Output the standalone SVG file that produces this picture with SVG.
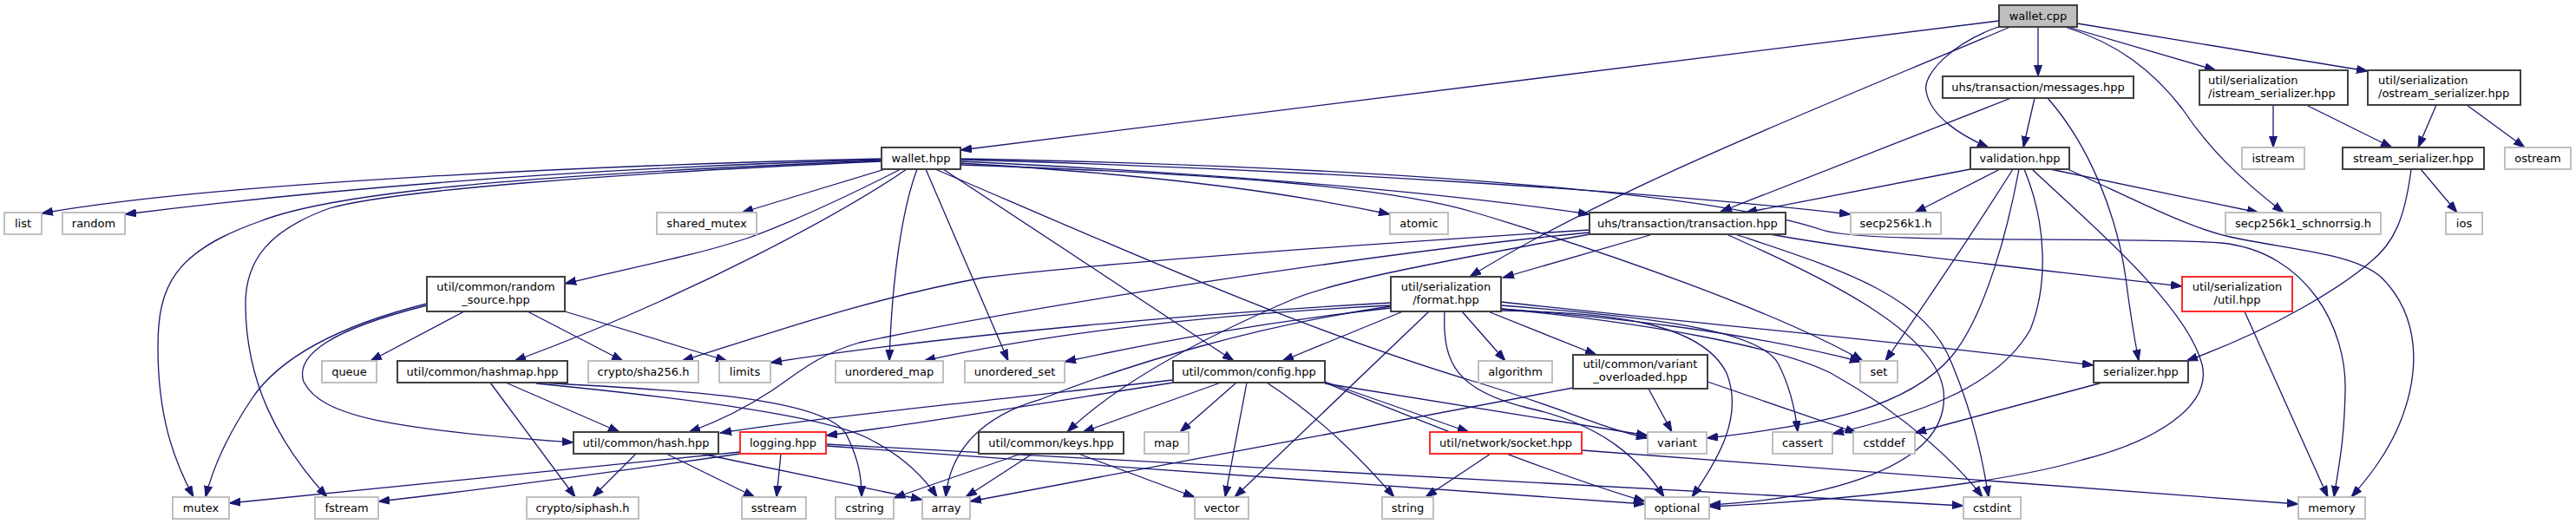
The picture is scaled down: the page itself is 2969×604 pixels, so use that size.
<svg xmlns="http://www.w3.org/2000/svg" width="2969" height="604" viewBox="0 0 2969 604">
<style>
.e{fill:none;stroke:#191970;stroke-width:1.3;marker-end:url(#a)}
.node rect{fill:#fff;stroke:#404040;stroke-width:2}
.node.ext rect{stroke:#bfbfbf}
.node.red rect{stroke:#ff2a2a}
.node.root rect{fill:#bfbfbf}
text{font-family:"DejaVu Sans",sans-serif;font-size:13px;fill:#000;text-anchor:middle}
text.l{text-anchor:start}
</style>
<defs>
<marker id="a" markerWidth="14" markerHeight="10" refX="13" refY="5" orient="auto" markerUnits="userSpaceOnUse"><path d="M0,0.5 L13,5 L0,9.5 z" fill="#191970" stroke="#191970" stroke-width="1"/></marker>
</defs>
<rect width="2969" height="604" fill="#fff"/>
<g id="edges">
<path class="e" d="M2304,24 L1107,173"/>
<path class="e" d="M2349,31 L2349,88"/>
<path class="e" d="M2303,31 C2250,50 2216,85 2220,105 C2225,135 2262,157 2292,170"/>
<path class="e" d="M2317,31 C2120,115 1860,215 1694,319"/>
<path class="e" d="M2383,31 L2554,81"/>
<path class="e" d="M2394,27 L2729,82"/>
<path class="e" d="M2380,31 C2440,50 2480,80 2515,125 C2545,170 2580,205 2632,245"/>
<path class="e" d="M2345,113 L2332,170"/>
<path class="e" d="M2318,113 L1983,244"/>
<path class="e" d="M2360,113 C2410,170 2440,250 2450,320 C2455,360 2460,390 2465,416"/>
<path class="e" d="M2620,121 L2620,170"/>
<path class="e" d="M2658,121 L2757,170"/>
<path class="e" d="M2808,121 L2787,170"/>
<path class="e" d="M2843,121 L2910,170"/>
<path class="e" d="M2790,195 L2832,245"/>
<path class="e" d="M2779,195 C2772,250 2760,280 2732,302 C2700,330 2620,380 2520,416"/>
<path class="e" d="M2271,195 L2012,245"/>
<path class="e" d="M2305,195 L2207,245"/>
<path class="e" d="M2363,195 L2603,245"/>
<path class="e" d="M2383,195 C2450,225 2520,262 2570,273 C2640,288 2715,292 2745,320 C2790,365 2790,430 2765,490 C2750,525 2730,550 2710,573"/>
<path class="e" d="M2320,195 Q2260,290 2173,416"/>
<path class="e" d="M2327,195 C2315,260 2290,360 2250,410 C2200,470 2100,490 1967,505"/>
<path class="e" d="M2333,195 C2360,260 2360,330 2340,380 C2300,450 2200,480 2112,500"/>
<path class="e" d="M2342,195 C2400,250 2520,350 2538,420 C2550,470 2480,510 2400,530 C2300,560 2100,578 1970,584"/>
<path class="e" d="M1905,270 L1732,320"/>
<path class="e" d="M2040,270 C2150,290 2300,305 2515,330"/>
<path class="e" d="M1832,265 C1600,280 1300,300 1133,320 C1000,345 900,380 786,416"/>
<path class="e" d="M1832,268 C1600,290 1200,350 990,395 C940,410 920,430 890,450 C860,470 830,485 794,498"/>
<path class="e" d="M1832,270 C1700,295 1550,320 1490,345 C1420,375 1300,430 1230,498"/>
<path class="e" d="M1990,270 C2100,320 2230,380 2240,450 C2250,540 2100,575 1970,582"/>
<path class="e" d="M2000,270 C2120,310 2220,340 2250,420 C2275,480 2285,530 2292,573"/>
<path class="e" d="M1016,183 C700,190 250,210 48,246"/>
<path class="e" d="M1016,184 C700,193 400,215 144,247"/>
<path class="e" d="M1016,185 C700,198 400,215 300,255 C200,290 182,330 182,400 C182,480 200,530 223,573"/>
<path class="e" d="M1016,186 C700,200 450,220 380,240 C310,265 283,300 283,350 C283,440 320,510 377,573"/>
<path class="e" d="M1020,195 L855,245"/>
<path class="e" d="M1038,195 C960,235 890,265 860,275 C800,295 720,310 651,327"/>
<path class="e" d="M1045,195 C980,240 800,340 593,416"/>
<path class="e" d="M1057,195 C1040,240 1028,320 1025,416"/>
<path class="e" d="M1067,195 L1162,416"/>
<path class="e" d="M1087,195 L1422,416"/>
<path class="e" d="M1078,195 C1300,290 1500,380 1700,440 C1800,470 1850,495 1899,505"/>
<path class="e" d="M1107,188 C1300,200 1450,215 1602,247"/>
<path class="e" d="M1107,186 C1400,200 1650,220 1832,247"/>
<path class="e" d="M1107,184 C1500,195 1900,220 2133,247"/>
<path class="e" d="M1107,183 C1500,190 1950,215 2100,265 C2150,282 2450,272 2560,280 C2660,290 2705,380 2703,450 C2702,510 2695,540 2690,573"/>
<path class="e" d="M1107,190 C1400,200 1600,215 1700,245 C1850,290 2050,360 2147,416"/>
<path class="e" d="M535,359 L427,416"/>
<path class="e" d="M492,350 C420,368 330,400 290,460 C260,505 245,540 237,573"/>
<path class="e" d="M492,352 C380,380 340,410 350,440 C370,480 450,495 661,510"/>
<path class="e" d="M608,359 L718,416"/>
<path class="e" d="M651,359 L838,416"/>
<path class="e" d="M583,441 L714,498"/>
<path class="e" d="M565,441 L663,573"/>
<path class="e" d="M618,441 C800,450 950,460 975,500 C990,530 993,550 993,573"/>
<path class="e" d="M618,442 C800,460 950,480 1000,505 C1040,525 1065,550 1080,573"/>
<path class="e" d="M733,523 L683,573"/>
<path class="e" d="M768,523 L870,573"/>
<path class="e" d="M808,523 L1063,576"/>
<path class="e" d="M853,521 L264,580"/>
<path class="e" d="M853,523 C700,545 550,565 436,578"/>
<path class="e" d="M900,523 L895,573"/>
<path class="e" d="M952,514 C1300,540 1600,560 1896,581"/>
<path class="e" d="M952,512 C1500,540 2000,565 2263,583"/>
<path class="e" d="M1407,441 L1248,498"/>
<path class="e" d="M1425,441 L1360,498"/>
<path class="e" d="M1437,441 L1412,573"/>
<path class="e" d="M1352,438 C1200,455 950,480 830,499"/>
<path class="e" d="M1352,441 C1200,465 1050,490 952,502"/>
<path class="e" d="M1527,440 L1693,498"/>
<path class="e" d="M1460,441 C1520,480 1570,530 1607,573"/>
<path class="e" d="M1527,442 L1899,502"/>
<path class="e" d="M1527,441 C1650,490 1800,550 1896,578"/>
<path class="e" d="M1603,349 C1400,360 1100,385 888,418"/>
<path class="e" d="M1603,352 C1400,362 1200,385 1065,416"/>
<path class="e" d="M1603,355 C1450,372 1330,395 1227,417"/>
<path class="e" d="M1617,359 L1478,416"/>
<path class="e" d="M1603,353 C1450,375 1300,420 1200,460 C1130,480 1095,520 1090,573"/>
<path class="e" d="M1647,359 L1423,573"/>
<path class="e" d="M1685,359 L1735,416"/>
<path class="e" d="M1715,359 L1840,409"/>
<path class="e" d="M1665,359 C1662,420 1680,450 1760,470 C1850,490 1890,530 1918,573"/>
<path class="e" d="M1730,356 C1850,365 2000,380 2145,417"/>
<path class="e" d="M1730,348 C1950,372 2200,395 2413,421"/>
<path class="e" d="M1730,352 C1900,365 2030,380 2050,420 C2065,450 2070,480 2072,498"/>
<path class="e" d="M1730,356 C1900,372 2050,400 2110,430 C2200,480 2260,540 2285,573"/>
<path class="e" d="M1730,358 C1850,360 1960,370 1990,430 C2010,480 1980,530 1950,573"/>
<path class="e" d="M1968,440 L2140,499"/>
<path class="e" d="M1813,447 L1118,578"/>
<path class="e" d="M1718,523 L1643,573"/>
<path class="e" d="M1823,519 L2649,581"/>
<path class="e" d="M1177,523 L1030,574"/>
<path class="e" d="M1190,523 L1113,573"/>
<path class="e" d="M1243,523 L1377,573"/>
<path class="e" d="M1900,448 L1927,498"/>
<path class="e" d="M2423,441 L2207,499"/>
<path class="e" d="M2587,359 L2683,573"/>
</g>
<g id="n_wallet_cpp" class="node root"><rect x="2304" y="6" width="90" height="25"/><text x="2349" y="23">wallet.cpp</text></g>
<g id="n_wallet_hpp" class="node"><rect x="1016" y="170" width="91" height="25"/><text x="1061.5" y="187">wallet.hpp</text></g>
<g id="n_messages" class="node"><rect x="2239" y="88" width="220" height="25"/><text x="2349" y="105">uhs/transaction/messages.hpp</text></g>
<g id="n_istream_ser" class="node"><rect x="2535" y="81" width="171" height="40"/><text class="l" x="2545" y="97">util/serialization</text><text class="l" x="2545" y="111.5">/istream_serializer.hpp</text></g>
<g id="n_ostream_ser" class="node"><rect x="2729" y="81" width="176" height="40"/><text class="l" x="2741" y="97">util/serialization</text><text class="l" x="2741" y="111.5">/ostream_serializer.hpp</text></g>
<g id="n_validation" class="node"><rect x="2271" y="170" width="114" height="25"/><text x="2328" y="187">validation.hpp</text></g>
<g id="n_stream_ser" class="node"><rect x="2700" y="170" width="163" height="25"/><text x="2781.5" y="187">stream_serializer.hpp</text></g>
<g id="n_istream" class="node ext"><rect x="2584" y="170" width="72" height="25"/><text x="2620" y="187">istream</text></g>
<g id="n_ostream" class="node ext"><rect x="2887" y="170" width="76" height="25"/><text x="2925" y="187">ostream</text></g>
<g id="n_list" class="node ext"><rect x="5" y="245" width="43" height="25"/><text x="26.5" y="262">list</text></g>
<g id="n_random" class="node ext"><rect x="72" y="245" width="72" height="25"/><text x="108" y="262">random</text></g>
<g id="n_shared_mutex" class="node ext"><rect x="757" y="245" width="115" height="25"/><text x="814.5" y="262">shared_mutex</text></g>
<g id="n_atomic" class="node ext"><rect x="1602" y="245" width="67" height="25"/><text x="1635.5" y="262">atomic</text></g>
<g id="n_transaction" class="node"><rect x="1832" y="245" width="226" height="25"/><text x="1945" y="262">uhs/transaction/transaction.hpp</text></g>
<g id="n_secp" class="node ext"><rect x="2133" y="245" width="104" height="25"/><text x="2185" y="262">secp256k1.h</text></g>
<g id="n_schnorr" class="node ext"><rect x="2565" y="245" width="179" height="25"/><text x="2654.5" y="262">secp256k1_schnorrsig.h</text></g>
<g id="n_ios" class="node ext"><rect x="2819" y="245" width="42" height="25"/><text x="2840" y="262">ios</text></g>
<g id="n_random_source" class="node"><rect x="492" y="319" width="159" height="40"/><text x="571.5" y="335">util/common/random</text><text x="571.5" y="349.5">_source.hpp</text></g>
<g id="n_format" class="node"><rect x="1603" y="319" width="127" height="40"/><text x="1666.5" y="335">util/serialization</text><text x="1666.5" y="349.5">/format.hpp</text></g>
<g id="n_util" class="node red"><rect x="2515" y="319" width="127" height="40"/><text x="2578.5" y="335">util/serialization</text><text x="2578.5" y="349.5">/util.hpp</text></g>
<g id="n_queue" class="node ext"><rect x="371" y="416" width="63" height="25"/><text x="402.5" y="433">queue</text></g>
<g id="n_hashmap" class="node"><rect x="458" y="416" width="196" height="25"/><text x="556" y="433">util/common/hashmap.hpp</text></g>
<g id="n_sha256" class="node ext"><rect x="678" y="416" width="127" height="25"/><text x="741.5" y="433">crypto/sha256.h</text></g>
<g id="n_limits" class="node ext"><rect x="829" y="416" width="59" height="25"/><text x="858.5" y="433">limits</text></g>
<g id="n_unordered_map" class="node ext"><rect x="963" y="416" width="124" height="25"/><text x="1025" y="433">unordered_map</text></g>
<g id="n_unordered_set" class="node ext"><rect x="1112" y="416" width="115" height="25"/><text x="1169.5" y="433">unordered_set</text></g>
<g id="n_config" class="node"><rect x="1352" y="416" width="175" height="25"/><text x="1439.5" y="433">util/common/config.hpp</text></g>
<g id="n_algorithm" class="node ext"><rect x="1704" y="416" width="85" height="25"/><text x="1746.5" y="433">algorithm</text></g>
<g id="n_variant_overloaded" class="node"><rect x="1813" y="409" width="155" height="39"/><text x="1890.5" y="424">util/common/variant</text><text x="1890.5" y="438.5">_overloaded.hpp</text></g>
<g id="n_set" class="node ext"><rect x="2144" y="416" width="43" height="25"/><text x="2165.5" y="433">set</text></g>
<g id="n_serializer" class="node"><rect x="2413" y="416" width="109" height="25"/><text x="2467.5" y="433">serializer.hpp</text></g>
<g id="n_hash" class="node"><rect x="661" y="498" width="167" height="25"/><text x="744.5" y="515">util/common/hash.hpp</text></g>
<g id="n_logging" class="node red"><rect x="853" y="498" width="99" height="25"/><text x="902.5" y="515">logging.hpp</text></g>
<g id="n_keys" class="node"><rect x="1128" y="498" width="167" height="25"/><text x="1211.5" y="515">util/common/keys.hpp</text></g>
<g id="n_map" class="node ext"><rect x="1319" y="498" width="51" height="25"/><text x="1344.5" y="515">map</text></g>
<g id="n_socket" class="node red"><rect x="1648" y="498" width="175" height="25"/><text x="1735.5" y="515">util/network/socket.hpp</text></g>
<g id="n_variant" class="node ext"><rect x="1899" y="498" width="68" height="25"/><text x="1933" y="515">variant</text></g>
<g id="n_cassert" class="node ext"><rect x="2043" y="498" width="69" height="25"/><text x="2077.5" y="515">cassert</text></g>
<g id="n_cstddef" class="node ext"><rect x="2136" y="498" width="71" height="25"/><text x="2171.5" y="515">cstddef</text></g>
<g id="n_mutex" class="node ext"><rect x="199" y="573" width="65" height="25"/><text x="231.5" y="590">mutex</text></g>
<g id="n_fstream" class="node ext"><rect x="363" y="573" width="73" height="25"/><text x="399.5" y="590">fstream</text></g>
<g id="n_siphash" class="node ext"><rect x="607" y="573" width="129" height="25"/><text x="671.5" y="590">crypto/siphash.h</text></g>
<g id="n_sstream" class="node ext"><rect x="855" y="573" width="74" height="25"/><text x="892" y="590">sstream</text></g>
<g id="n_cstring" class="node ext"><rect x="963" y="573" width="67" height="25"/><text x="996.5" y="590">cstring</text></g>
<g id="n_array" class="node ext"><rect x="1063" y="573" width="55" height="25"/><text x="1090.5" y="590">array</text></g>
<g id="n_vector" class="node ext"><rect x="1377" y="573" width="62" height="25"/><text x="1408" y="590">vector</text></g>
<g id="n_string" class="node ext"><rect x="1593" y="573" width="59" height="25"/><text x="1622.5" y="590">string</text></g>
<g id="n_optional" class="node ext"><rect x="1896" y="573" width="74" height="25"/><text x="1933" y="590">optional</text></g>
<g id="n_cstdint" class="node ext"><rect x="2263" y="573" width="66" height="25"/><text x="2296" y="590">cstdint</text></g>
<g id="n_memory" class="node ext"><rect x="2649" y="573" width="77" height="25"/><text x="2687.5" y="590">memory</text></g>
</svg>
